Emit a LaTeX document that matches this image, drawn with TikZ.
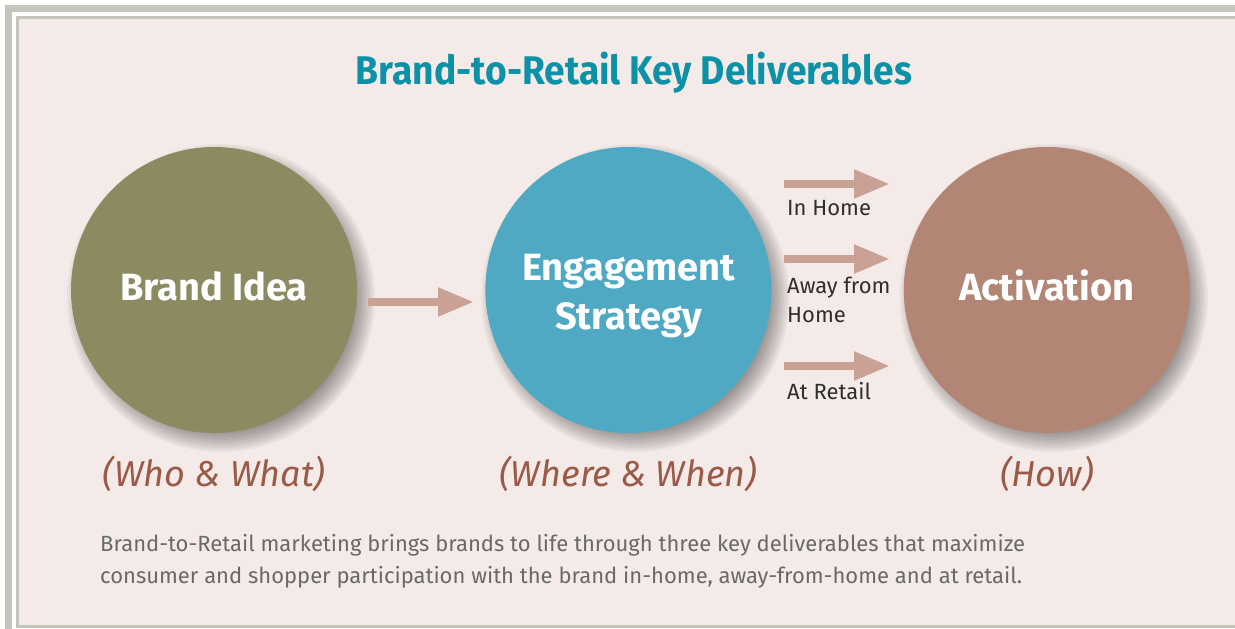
\documentclass[tikz,border=0pt]{standalone}
\usepackage{fontspec}
\setmainfont{Fira Sans}
\newfontfamily\headfont[FakeStretch=0.93]{Fira Sans}
\usepackage{tikz}
\usetikzlibrary{positioning}
\usetikzlibrary{arrows.meta}

\definecolor{paper}{RGB}{244,235,232}
\definecolor{framegray}{RGB}{197,197,189}
\definecolor{olive}{RGB}{139,138,97}
\definecolor{lagoon}{RGB}{79,169,195}
\definecolor{clay}{RGB}{178,133,116}
\definecolor{titleteal}{RGB}{12,145,166}
\definecolor{rust}{RGB}{155,90,72}
\definecolor{arrowpink}{RGB}{201,161,149}
\definecolor{bodygray}{RGB}{105,105,105}

\pgfdeclarelayer{framelayer}
\pgfdeclarelayer{shadelayer}
\pgfsetlayers{framelayer,shadelayer,main}

\begin{document}
\begin{tikzpicture}[x=1pt, y=1pt,
    bigcircle/.style={circle, minimum size=286pt, inner sep=0pt, align=center, text=white,
        font=\fontsize{38}{49}\selectfont\bfseries, text height=30pt, text depth=10pt},
    caption/.style={anchor=base, text=rust, font=\fontsize{36}{42}\selectfont\itshape},
    channel/.style={anchor=base west, align=left, inner sep=0pt, text=black!82,
        font=\fontsize{22}{29}\selectfont},
    pointer/.style={draw=arrowpink, line width=8pt, -{Triangle[length=36pt, width=27pt]}},
    ]

    \useasboundingbox (0,0) rectangle (1235,-629);

    %Frame
    \begin{pgfonlayer}{framelayer}
    \fill[white] (0,0) rectangle (1235,-629);
    \fill[framegray] (5,-5) rectangle (1250,-650);
    \fill[white] (12,-12) rectangle (1245,-645);
    \draw[framegray, line width=3pt, fill=paper] (17.5,-17.5) rectangle (1245,-626);
    \end{pgfonlayer}

    %Title
    \node[anchor=base, text=titleteal, font=\headfont\fontsize{40}{48}\selectfont\bfseries] (title)
        at (634,-84) {Brand-to-Retail Key Deliverables};

    %Nodes
    \node[bigcircle, fill=olive] (brandidea)  at (214,-290)            {Brand Idea};
    \node[bigcircle, fill=lagoon, text height=80pt, text depth=2pt] (engagement)
        [right=128pt of brandidea] {Engagement\\Strategy};
    \node[bigcircle, fill=clay] (activation)  [right=132pt of engagement] {Activation};

    %Shadows
    \begin{pgfonlayer}{shadelayer}
    \foreach \disc in {brandidea,engagement,activation}
        \foreach \r in {130,132,...,154}
            \fill[black, opacity=0.04] ([shift={(7pt,-8pt)}]\disc.center) circle (\r pt);
    \end{pgfonlayer}

    \node[caption] (whowhat)   at (brandidea.center |- 0,-486)  {(Who \& What)};
    \node[caption] (wherewhen) at (engagement.center |- 0,-486) {(Where \& When)};
    \node[caption] (how)       at (activation.center |- 0,-486) {(How)};

    \node[channel] (inhome)   at (787,-215) {In Home};
    \node[channel] (awayhome) at (787,-322) {Away from\\Home};
    \node[channel] (atretail) at (787,-399) {At Retail};

    %Lines
    \coordinate (idea-out)   at (368,-302);
    \coordinate (eng-in)     at (474,-302);
    \coordinate (home-out)   at (784,-184);
    \coordinate (home-in)    at (890,-184);
    \coordinate (away-out)   at (784,-259);
    \coordinate (away-in)    at (890,-259);
    \coordinate (retail-out) at (784,-366);
    \coordinate (retail-in)  at (890,-366);
    \draw[pointer] (idea-out) -- (eng-in);
    \draw[pointer] (home-out) -- (home-in);
    \draw[pointer] (away-out) -- (away-in);
    \draw[pointer] (retail-out) -- (retail-in);

    %Footnote
    \node[anchor=base west, align=left, inner sep=0pt, text=bodygray,
        font=\fontsize{22}{32}\selectfont] (summary) at (100,-583)
        {Brand-to-Retail marketing brings brands to life through three key deliverables that maximize\\
         consumer and shopper participation with the brand in-home, away-from-home and at retail.};

\end{tikzpicture}
\end{document}
